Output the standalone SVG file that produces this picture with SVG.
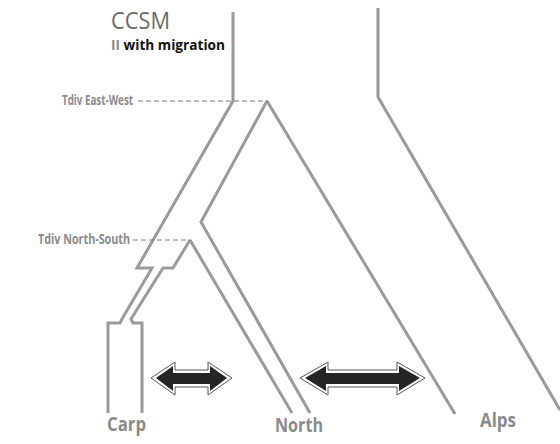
<svg xmlns="http://www.w3.org/2000/svg" width="560" height="444" viewBox="0 0 560 444">
<style>
.br{fill:none;stroke:#9a9a9a;stroke-width:3;stroke-linejoin:miter}
.dash{fill:none;stroke:#7a7a7a;stroke-width:1;stroke-dasharray:5,3}
.lbl{font-family:"Open Sans","Liberation Sans",sans-serif;font-weight:700;fill:#8a8a8a}
.ao{fill:#fff;stroke:#555;stroke-width:1}
.ai{fill:#252525}
</style>
<rect width="560" height="444" fill="#fff"/>
<g id="connectors">
<path class="br" d="M233,12 V101 L137,268 H152 L122,319 L120,323 H108 V413"/>
<path class="br" d="M190,240 L173,268 H163 L131,319 L133,323 H142 V413"/>
<path class="br" d="M190,240 L292,413"/>
<path class="br" d="M267,101 L201,222 L310,413"/>
<path class="br" d="M267,101 L455,414"/>
<path class="br" d="M378,8 V97 L560,410"/>
<line class="dash" x1="138" y1="101" x2="268" y2="101"/>
<line class="dash" x1="133" y1="240" x2="190" y2="240"/>
</g>
<g id="title">
<text x="111" y="29" style="font-family:'Open Sans','Liberation Sans',sans-serif;font-size:23px;fill:#6a6a6a" textLength="59" lengthAdjust="spacingAndGlyphs">CCSM</text>
<text x="111" y="50" style="font-family:'Open Sans','Liberation Sans',sans-serif;font-size:14px;font-weight:700" textLength="114" lengthAdjust="spacingAndGlyphs"><tspan fill="#8a8a8a">II</tspan><tspan fill="#111"> with migration</tspan></text>
</g>
<g id="tdiv-ew"><text class="lbl" x="62" y="105" style="font-size:14px" textLength="71" lengthAdjust="spacingAndGlyphs">Tdiv East-West</text></g>
<g id="tdiv-ns"><text class="lbl" x="38" y="244" style="font-size:14px" textLength="92" lengthAdjust="spacingAndGlyphs">Tdiv North-South</text></g>
<g id="carp"><text class="lbl" x="107" y="431" style="font-size:20px" textLength="39" lengthAdjust="spacingAndGlyphs">Carp</text></g>
<g id="north"><text class="lbl" x="275" y="432" style="font-size:20px" textLength="48" lengthAdjust="spacingAndGlyphs">North</text></g>
<g id="alps"><text class="lbl" x="480" y="427" style="font-size:20px" textLength="36" lengthAdjust="spacingAndGlyphs">Alps</text></g>
<g id="arrow1">
<polygon class="ao" points="151,378 175,362 175,370 208,370 208,362 232,378 208,395 208,387 175,387 175,395"/>
<polygon class="ai" points="156,378 173,366 173,373 210,373 210,366 227,378 210,391 210,384 173,384 173,391"/>
</g>
<g id="arrow2">
<polygon class="ao" points="300,378 328,362 328,370 397,370 397,362 425,378 397,395 397,387 328,387 328,395"/>
<polygon class="ai" points="305,378 326,366 326,373 399,373 399,366 420,378 399,391 399,384 326,384 326,391"/>
</g>
</svg>
